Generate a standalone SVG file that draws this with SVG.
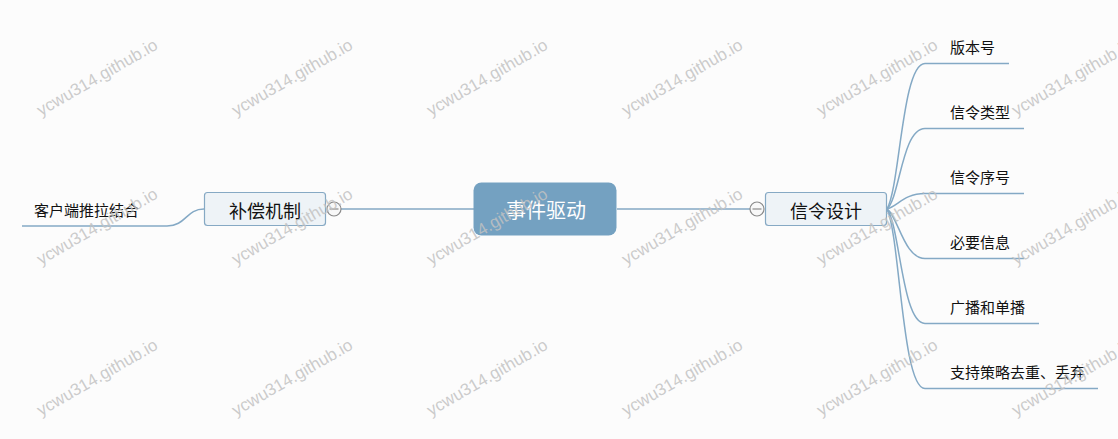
<svg xmlns="http://www.w3.org/2000/svg" width="1118" height="439" viewBox="0 0 1118 439">
<style>
.cjk{font-family:"Noto Sans CJK SC","Microsoft YaHei",sans-serif}
.leaf{font-size:15px;fill:#111}
.sub rect{fill:#eef3f7;stroke:#86a9c4;stroke-width:1.2}
.sub text{font-size:18px;fill:#111;text-anchor:middle;dominant-baseline:central}
.conn path,.conn line{fill:none;stroke:#84a9c5;stroke-width:1.5}
.tog circle{fill:#f8f8f8;stroke:#8a8a8a;stroke-width:1.2}
.tog line{stroke:#8a8a8a;stroke-width:1.2}
.wm text{font-family:"Liberation Sans",Arial,sans-serif;font-size:17px;fill:#c2c2c2;fill-opacity:0.85;text-anchor:middle}
</style>
<rect width="1118" height="439" fill="#fcfcfc"/>
<g class="conn" id="connectors">
<line x1="341" y1="209" x2="474" y2="209"/>
<line x1="617" y1="209" x2="750" y2="209"/>
<path d="M204,209 C186,209 186,226 167,226 L22,226"/>
<path d="M887,209 C900,187 902,63.5 925,63.5 L1009,63.5"/>
<path d="M887,209 C900,197 902,128.5 925,128.5 L1024,128.5"/>
<path d="M887,209 C898,206 904,193.5 925,193.5 L1024,193.5"/>
<path d="M887,209 C898,216 904,258.5 925,258.5 L1024,258.5"/>
<path d="M887,209 C900,226 902,323.5 925,323.5 L1039,323.5"/>
<path d="M887,209 C900,236 902,388.5 925,388.5 L1098,388.5"/>
</g>
<g id="root">
<rect x="473.5" y="182.5" width="143" height="53" rx="8" fill="#74a1c1"/>
<text class="cjk" x="546" y="209.5" font-size="20" fill="#fff" text-anchor="middle" dominant-baseline="central">事件驱动</text>
</g>
<g id="node-buchang" class="sub cjk">
<rect x="204.5" y="192.5" width="121" height="33" rx="3"/>
<text x="265" y="209.5">补偿机制</text>
</g>
<g id="toggle-left" class="tog">
<circle cx="334" cy="209" r="7"/>
<line x1="329.5" y1="209" x2="338.5" y2="209"/>
</g>
<g id="node-xinling" class="sub cjk">
<rect x="765.5" y="192.5" width="121" height="33" rx="3"/>
<text x="826" y="209.5">信令设计</text>
</g>
<g id="toggle-right" class="tog">
<circle cx="757" cy="209" r="7"/>
<line x1="752.5" y1="209" x2="761.5" y2="209"/>
</g>
<g id="leaf-kehuduan"><text class="cjk leaf" x="34" y="215.5">客户端推拉结合</text></g>
<g id="leaf-banbenhao"><text class="cjk leaf" x="950" y="53">版本号</text></g>
<g id="leaf-leixing"><text class="cjk leaf" x="950" y="118">信令类型</text></g>
<g id="leaf-xuhao"><text class="cjk leaf" x="950" y="183">信令序号</text></g>
<g id="leaf-xinxi"><text class="cjk leaf" x="950" y="248">必要信息</text></g>
<g id="leaf-guangbo"><text class="cjk leaf" x="950" y="313">广播和单播</text></g>
<g id="leaf-celue"><text class="cjk leaf" x="950" y="378">支持策略去重、丢弃</text></g>
<g class="wm" id="watermark">
<text transform="translate(97,77) rotate(-30)" y="6">ycwu314.github.io</text>
<text transform="translate(292,77) rotate(-30)" y="6">ycwu314.github.io</text>
<text transform="translate(487,77) rotate(-30)" y="6">ycwu314.github.io</text>
<text transform="translate(682,77) rotate(-30)" y="6">ycwu314.github.io</text>
<text transform="translate(877,77) rotate(-30)" y="6">ycwu314.github.io</text>
<text transform="translate(1072,77) rotate(-30)" y="6">ycwu314.github.io</text>
<text transform="translate(97,226) rotate(-30)" y="6">ycwu314.github.io</text>
<text transform="translate(292,226) rotate(-30)" y="6">ycwu314.github.io</text>
<text transform="translate(487,226) rotate(-30)" y="6">ycwu314.github.io</text>
<text transform="translate(682,226) rotate(-30)" y="6">ycwu314.github.io</text>
<text transform="translate(877,226) rotate(-30)" y="6">ycwu314.github.io</text>
<text transform="translate(1072,226) rotate(-30)" y="6">ycwu314.github.io</text>
<text transform="translate(97,377) rotate(-30)" y="6">ycwu314.github.io</text>
<text transform="translate(292,377) rotate(-30)" y="6">ycwu314.github.io</text>
<text transform="translate(487,377) rotate(-30)" y="6">ycwu314.github.io</text>
<text transform="translate(682,377) rotate(-30)" y="6">ycwu314.github.io</text>
<text transform="translate(877,377) rotate(-30)" y="6">ycwu314.github.io</text>
<text transform="translate(1072,377) rotate(-30)" y="6">ycwu314.github.io</text>
</g>
</svg>
